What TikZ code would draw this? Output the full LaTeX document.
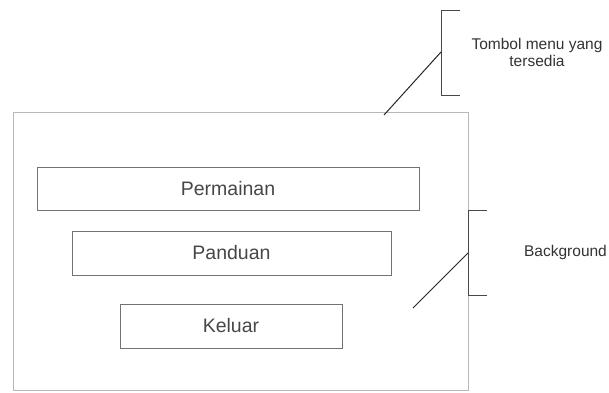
\documentclass[tikz,border=0pt]{standalone}
\usepackage{fontspec}
\setmainfont{Liberation Sans}
\begin{document}
\begin{tikzpicture}[x=1pt,y=-1pt,
  screen/.style={draw=black!28,line width=1.3pt,inner sep=0pt,anchor=north west},
  menubtn/.style={draw=black!55,line width=1pt,inner sep=0pt,text=black!72,
     font=\fontsize{19.5}{23}\selectfont},
  bracketline/.style={draw=black!72,line width=1pt},
  pointer/.style={draw=black!85,line width=1pt},
  note/.style={text=black!80,font=\fontsize{15.5}{18}\selectfont,align=center,inner sep=0pt}]
\useasboundingbox (0,0) rectangle (609,392);
\fill[white] (0,0) rectangle (609,392);
% outer screen
\node[screen,minimum width=455pt,minimum height=278pt] (scr) at (13,112) {};
% menu buttons
\node[menubtn,minimum width=382pt,minimum height=43pt] (perm) at (228,188.5) {Permainan};
\node[menubtn,minimum width=319pt,minimum height=44pt] (pand) at (231.5,253) {Panduan};
\node[menubtn,minimum width=222pt,minimum height=44pt] (kel) at (231,326) {Keluar};
% top bracket
\coordinate (b1t) at (460,10);
\coordinate (b1tl) at (441,10);
\coordinate (b1bl) at (441,95);
\coordinate (b1b) at (460,95);
\coordinate (b1m) at (441,52);
\coordinate (p1) at (384,115);
\draw[bracketline] (b1t) -- (b1tl) -- (b1bl) -- (b1b);
\draw[pointer] (b1m) -- (p1);
\node[note] (lbl1) at (537,52) {Tombol menu yang\\[-1pt]tersedia};
% background bracket
\coordinate (b2t) at (487,210);
\coordinate (b2tl) at (468,210);
\coordinate (b2bl) at (468,295);
\coordinate (b2b) at (487,295);
\coordinate (b2m) at (468,253);
\coordinate (p2) at (413,308);
\draw[bracketline] (b2t) -- (b2tl) -- (b2bl) -- (b2b);
\draw[pointer] (b2m) -- (p2);
\node[note] (lbl2) at (565.5,252) {Background};
\end{tikzpicture}
\end{document}
